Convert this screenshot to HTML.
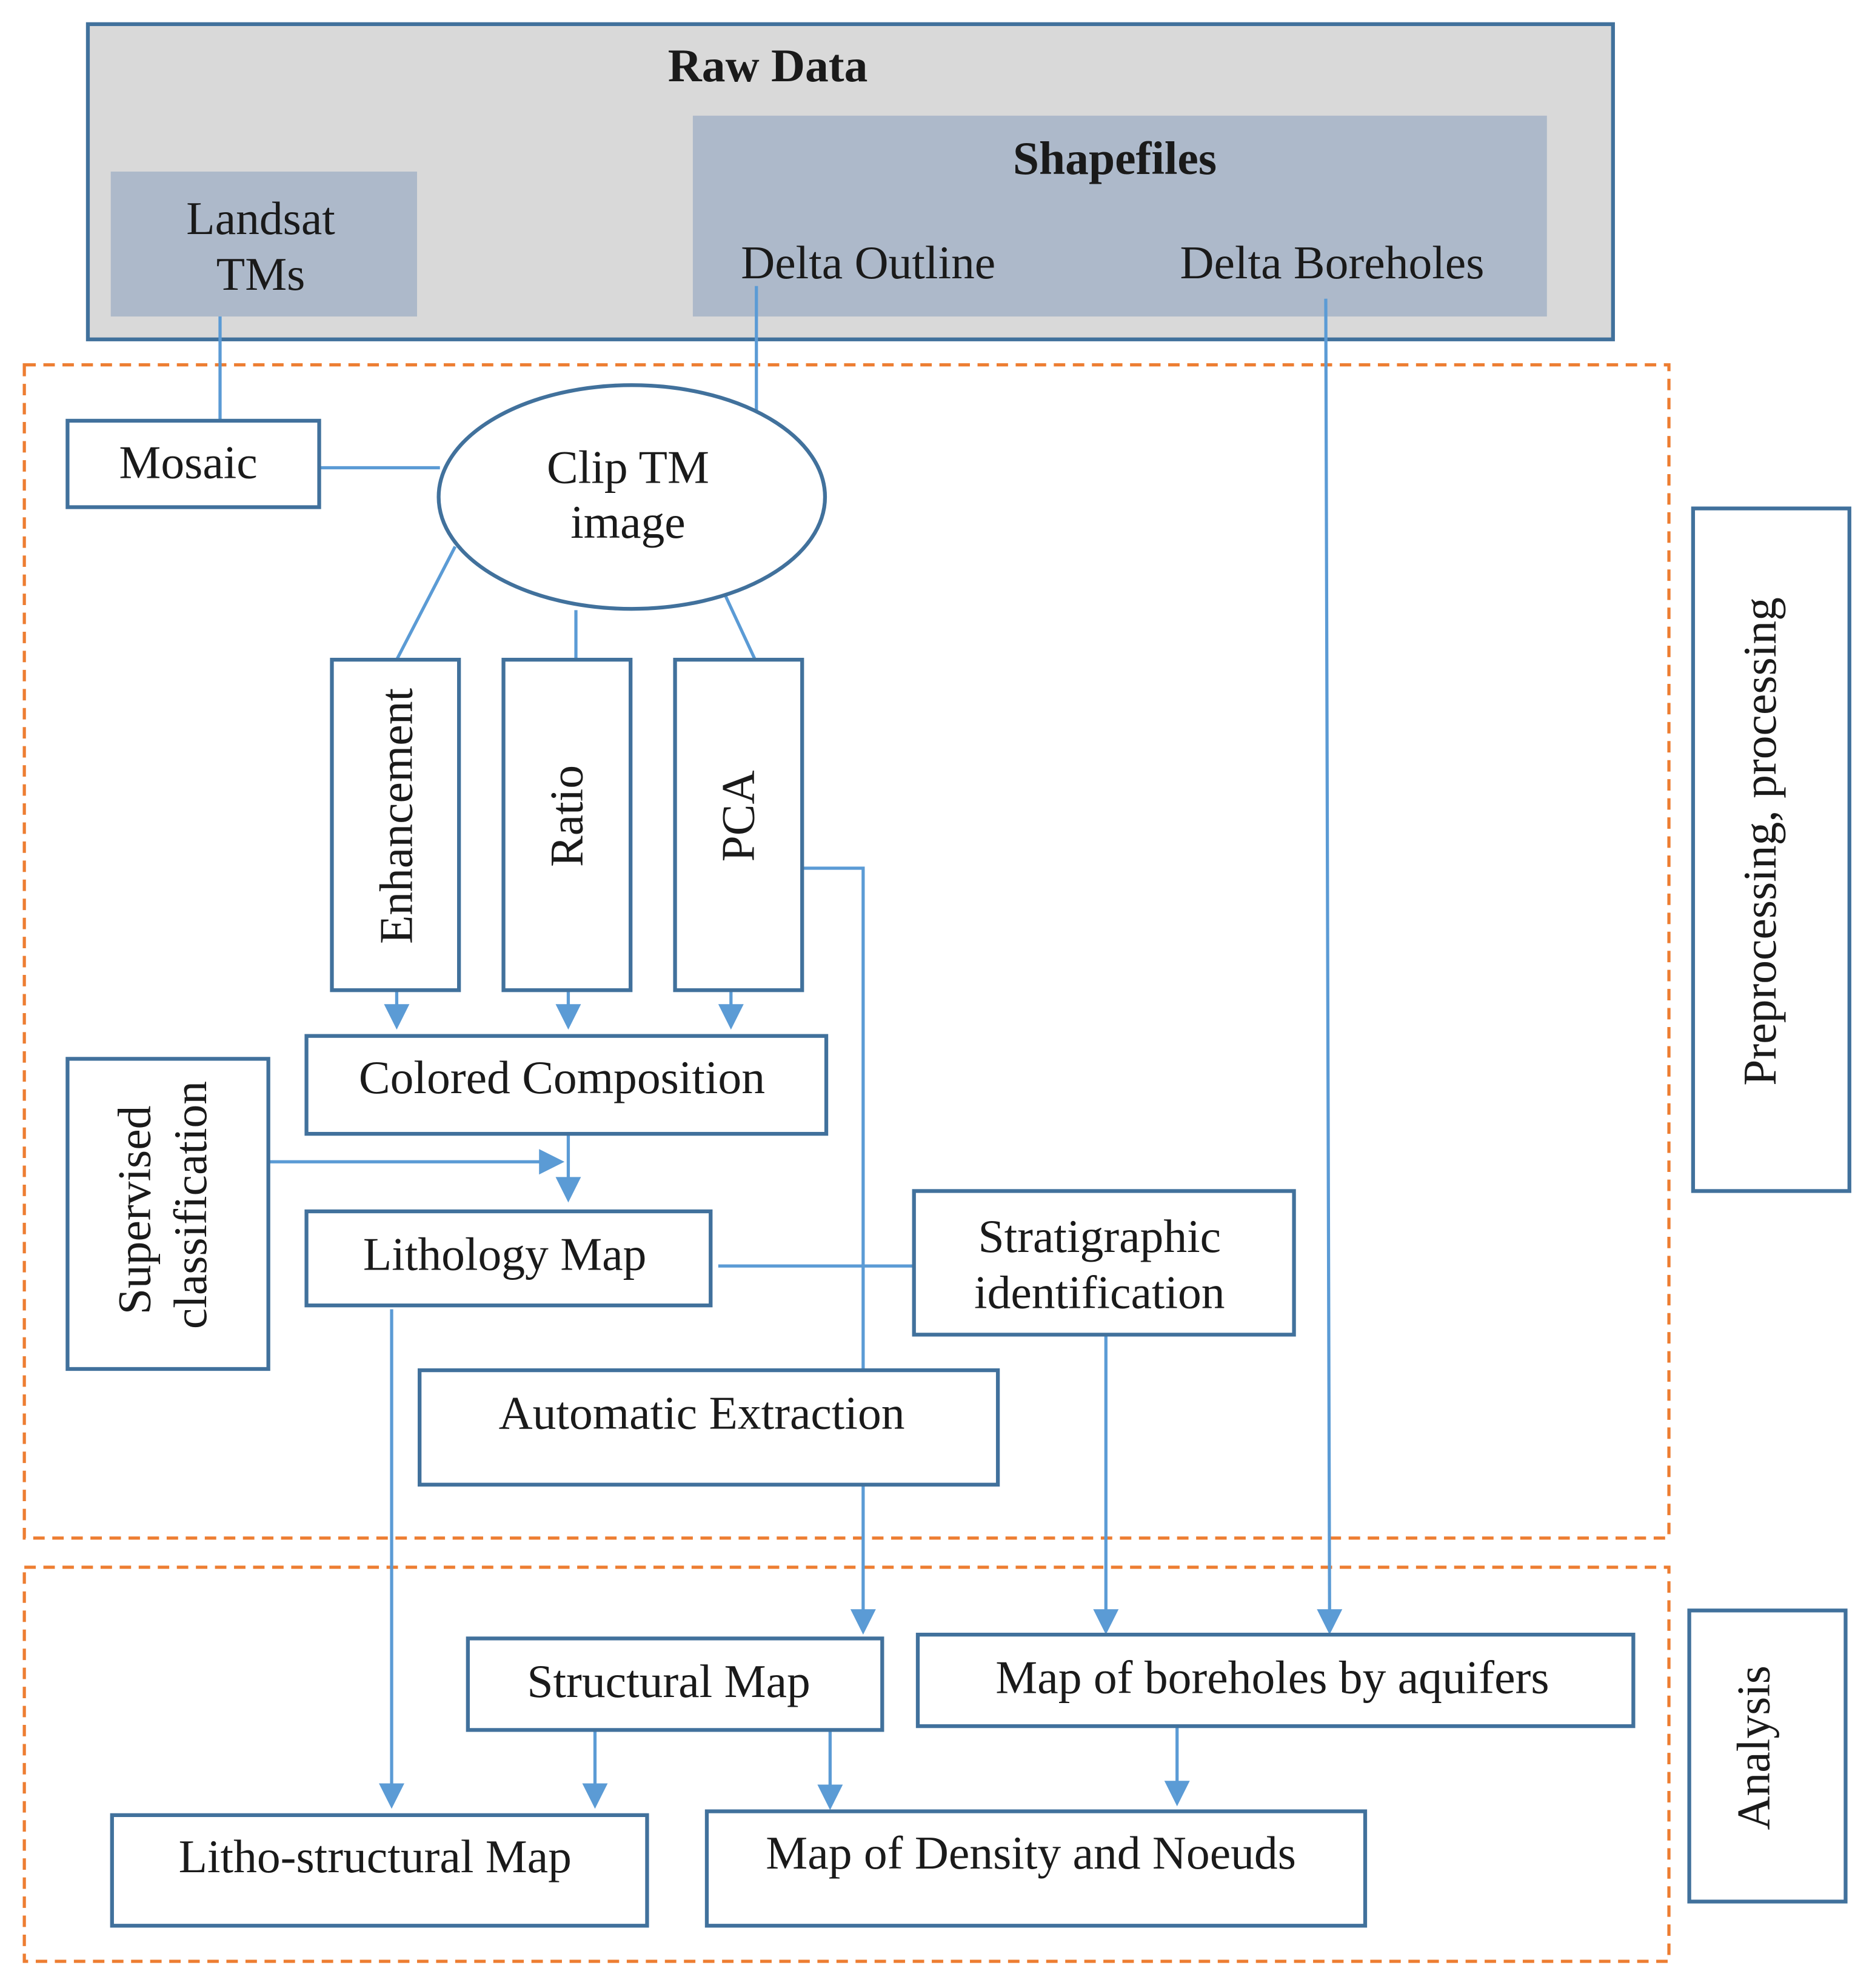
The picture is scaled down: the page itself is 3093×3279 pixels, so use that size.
<!DOCTYPE html>
<html><head><meta charset="utf-8"><style>
html,body{margin:0;padding:0;background:#fff;}
svg{display:block;}
text{font-family:"Liberation Serif","DejaVu Serif",serif;fill:#1a1a1a;font-size:37px;}
.b{fill:#fff;stroke:#41719c;stroke-width:3;}
.c{stroke:#5b9bd5;stroke-width:2.5;fill:none;}
.a{fill:#5b9bd5;}
.d{fill:none;stroke:#ed7d31;stroke-width:2.5;stroke-dasharray:9 6;}
</style></head><body>
<svg width="3093" height="3279" viewBox="0 0 1475 1564" xmlns="http://www.w3.org/2000/svg">
<rect x="0" y="0" width="1475" height="1564" fill="#fff"/>
<rect x="69" y="19" width="1200" height="248" fill="#d9d9d9" stroke="#41719c" stroke-width="3"/>
<text x="604" y="64" text-anchor="middle" font-weight="bold">Raw Data</text>
<rect x="87" y="135" width="241" height="114" fill="#adb9ca"/>
<text x="205" y="184" text-anchor="middle">Landsat</text>
<text x="205" y="228" text-anchor="middle">TMs</text>
<rect x="545" y="91" width="672" height="158" fill="#adb9ca"/>
<text x="877" y="137" text-anchor="middle" font-weight="bold">Shapefiles</text>
<text x="683" y="219" text-anchor="middle">Delta Outline</text>
<text x="1048" y="219" text-anchor="middle">Delta Boreholes</text>
<rect class="d" x="19" y="287" width="1294" height="923"/>
<rect class="d" x="19" y="1233" width="1294" height="310"/>
<path class="c" d="M173 249V331 M251 368H346 M595 225V330 M358 430L312 519 M453 480V519 M568 463L594 519"/>
<path class="c" d="M312 779V800 M447 779V800 M575 779V800"/>
<path class="a" d="M302 790h20l-10 20z M437 790h20l-10 20z M565 790h20l-10 20z"/>
<path class="c" d="M211 914H428 M447 892V935"/>
<path class="a" d="M424 904v20l20-10z M437 926h20l-10 20z"/>
<path class="c" d="M565 996H719 M631 683H679V1078"/>
<path class="c" d="M679 1168V1270 M870 1050V1270 M1043 235L1046 1270 M308 1030V1408 M468 1361V1408 M653 1361V1408 M926 1358V1406"/>
<path class="a" d="M669 1266h20l-10 20z M860 1266h20l-10 20z M1036 1266h20l-10 20z M298 1403h20l-10 20z M458 1403h20l-10 20z M643 1404h20l-10 20z M916 1401h20l-10 20z"/>
<rect class="b" x="53" y="331" width="198" height="68"/>
<text x="148" y="376" text-anchor="middle">Mosaic</text>
<ellipse cx="497" cy="391" rx="152" ry="88" fill="#fff" stroke="#41719c" stroke-width="3"/>
<text x="494" y="380" text-anchor="middle">Clip TM</text>
<text x="494" y="423" text-anchor="middle">image</text>
<rect class="b" x="261" y="519" width="100" height="260"/>
<text transform="translate(324,642) rotate(-90)" text-anchor="middle">Enhancement</text>
<rect class="b" x="396" y="519" width="100" height="260"/>
<text transform="translate(458,642) rotate(-90)" text-anchor="middle">Ratio</text>
<rect class="b" x="531" y="519" width="100" height="260"/>
<text transform="translate(593,642) rotate(-90)" text-anchor="middle">PCA</text>
<rect class="b" x="241" y="815" width="409" height="77"/>
<text x="442" y="860" text-anchor="middle">Colored Composition</text>
<rect class="b" x="53" y="833" width="158" height="244"/>
<text transform="translate(118,952) rotate(-90)" text-anchor="middle">Supervised</text>
<text transform="translate(162,948) rotate(-90)" text-anchor="middle">classification</text>
<rect class="b" x="241" y="953" width="318" height="74"/>
<text x="397" y="999" text-anchor="middle">Lithology Map</text>
<rect class="b" x="719" y="937" width="299" height="113"/>
<text x="865" y="985" text-anchor="middle">Stratigraphic</text>
<text x="865" y="1029" text-anchor="middle">identification</text>
<rect class="b" x="330" y="1078" width="455" height="90"/>
<text x="552" y="1124" text-anchor="middle">Automatic Extraction</text>
<rect class="b" x="368" y="1289" width="326" height="72"/>
<text x="526" y="1335" text-anchor="middle">Structural Map</text>
<rect class="b" x="722" y="1286" width="563" height="72"/>
<text x="1001" y="1332" text-anchor="middle">Map of boreholes by aquifers</text>
<rect class="b" x="88" y="1428" width="421" height="87"/>
<text x="295" y="1473" text-anchor="middle">Litho-structural Map</text>
<rect class="b" x="556" y="1425" width="518" height="90"/>
<text x="811" y="1470" text-anchor="middle">Map of Density and Noeuds</text>
<rect class="b" x="1332" y="400" width="123" height="537"/>
<text transform="translate(1397,662) rotate(-90)" text-anchor="middle">Preprocessing, processing</text>
<rect class="b" x="1329" y="1267" width="123" height="229"/>
<text transform="translate(1392,1375) rotate(-90)" text-anchor="middle">Analysis</text>
</svg>
</body></html>
